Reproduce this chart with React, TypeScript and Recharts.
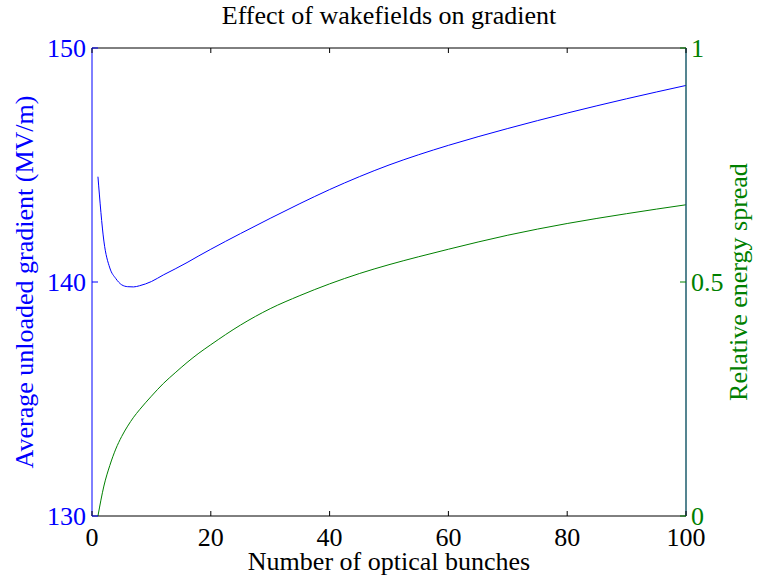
import React from 'react';
import { LineChart, Line, XAxis, YAxis } from 'recharts';

const FONT = '"Liberation Serif", "Times New Roman", serif';
const BLUE = '#0000ff';
const GREEN = '#008000';

// number of optical bunches
const bunches = [1, 2, 3, 4, 5, 6, 7, 8, 10, 12, 14, 16, 18, 20, 25, 30, 35, 40, 45, 50, 55, 60, 70, 80, 90, 100];
// average unloaded gradient (MV/m)
const gradient = [
  144.5, 141.75, 140.6, 140.15, 139.88, 139.8, 139.79, 139.84, 140.02, 140.3, 140.56, 140.83, 141.12,
  141.4, 142.07, 142.72, 143.35, 143.95, 144.5, 145.0, 145.44, 145.84, 146.56, 147.22, 147.83, 148.4,
];
// relative energy spread
const spread = [
  0, 0.064, 0.108, 0.143, 0.17, 0.192, 0.211, 0.227, 0.256, 0.283, 0.306, 0.328, 0.348,
  0.366, 0.408, 0.443, 0.471, 0.496, 0.518, 0.537, 0.554, 0.57, 0.6, 0.625, 0.646, 0.665,
];

const xTicks = [0, 20, 40, 60, 80, 100];
const gradientTicks = [130, 140, 150];
const spreadTicks = [0, 0.5, 1];

const data = bunches.map((n, i) => ({ n, gradient: gradient[i], spread: spread[i] }));

const BottomTick = (props: any) => {
  const { x, y, payload } = props;
  return (
    <g>
      <line x1={x} y1={y} x2={x} y2={y - 5} stroke="#000" />
      <text x={x} y={y + 30} textAnchor="middle" fontFamily={FONT} fontSize={26} fill="#000">
        {payload.value}
      </text>
    </g>
  );
};

const TopTick = (props: any) => {
  const { x, y } = props;
  return <line x1={x} y1={y} x2={x} y2={y + 5} stroke="#000" />;
};

const LeftTick = (props: any) => {
  const { x, y, payload } = props;
  return (
    <g>
      <line x1={x} y1={y} x2={x + 6} y2={y} stroke={BLUE} />
      <text x={x - 6} y={y + 9} textAnchor="end" fontFamily={FONT} fontSize={26} fill={BLUE}>
        {payload.value}
      </text>
    </g>
  );
};

const RightTick = (props: any) => {
  const { x, y, payload } = props;
  return (
    <g>
      <line x1={x} y1={y} x2={x - 6} y2={y} stroke={GREEN} />
      <text x={x + 5} y={y + 9} textAnchor="start" fontFamily={FONT} fontSize={26} fill={GREEN}>
        {payload.value}
      </text>
    </g>
  );
};

export default function App() {
  return (
    <div style={{ position: 'absolute', left: 0, top: 0, width: 760, height: 579, background: '#fff' }}>
      <LineChart width={760} height={579} data={data} margin={{ top: 47, right: 0, bottom: 0, left: 0 }}>
        <XAxis
          dataKey="n"
          type="number"
          domain={[0, 100]}
          ticks={xTicks}
          interval={0}
          height={63}
          tickSize={0}
          tickMargin={0}
          tickLine={false}
          stroke="#000"
          tick={<BottomTick />}
          label={({ viewBox }: any) => (
            <text
              x={viewBox.x + viewBox.width / 2}
              y={viewBox.y + 54}
              textAnchor="middle"
              fontFamily={FONT}
              fontSize={26}
              fill="#000"
            >
              Number of optical bunches
            </text>
          )}
        />
        <XAxis
          xAxisId="top"
          dataKey="n"
          type="number"
          orientation="top"
          domain={[0, 100]}
          ticks={xTicks}
          interval={0}
          height={1}
          tickSize={0}
          tickMargin={0}
          tickLine={false}
          stroke="#000"
          tick={<TopTick />}
          label={({ viewBox }: any) => (
            <text
              x={viewBox.x + viewBox.width / 2}
              y={viewBox.y - 23}
              textAnchor="middle"
              fontFamily={FONT}
              fontSize={26}
              fill="#000"
            >
              Effect of wakefields on gradient
            </text>
          )}
        />
        <YAxis
          yAxisId="left"
          orientation="left"
          domain={[130, 150]}
          ticks={gradientTicks}
          interval={0}
          width={92}
          tickSize={0}
          tickMargin={0}
          tickLine={false}
          stroke={BLUE}
          tick={<LeftTick />}
          label={({ viewBox }: any) => {
            const cx = viewBox.x + 33;
            const cy = viewBox.y + viewBox.height / 2;
            return (
              <text
                x={cx}
                y={cy}
                transform={`rotate(-90 ${cx} ${cy})`}
                textAnchor="middle"
                fontFamily={FONT}
                fontSize={26}
                fill={BLUE}
              >
                Average unloaded gradient (MV/m)
              </text>
            );
          }}
        />
        <YAxis
          yAxisId="right"
          orientation="right"
          domain={[0, 1]}
          ticks={spreadTicks}
          interval={0}
          width={74}
          tickSize={0}
          tickMargin={0}
          tickLine={false}
          axisLine={{ stroke: '#1c5c6c', strokeWidth: 1.5 }}
          tick={<RightTick />}
          label={({ viewBox }: any) => {
            const cx = viewBox.x + 61;
            const cy = viewBox.y + viewBox.height / 2;
            return (
              <text
                x={cx}
                y={cy}
                transform={`rotate(-90 ${cx} ${cy})`}
                textAnchor="middle"
                fontFamily={FONT}
                fontSize={26}
                fill={GREEN}
              >
                Relative energy spread
              </text>
            );
          }}
        />
        <Line
          yAxisId="left"
          type="monotone"
          dataKey="gradient"
          stroke={BLUE}
          strokeWidth={1}
          dot={false}
          isAnimationActive={false}
        />
        <Line
          yAxisId="right"
          type="monotone"
          dataKey="spread"
          stroke={GREEN}
          strokeWidth={1}
          dot={false}
          isAnimationActive={false}
        />
      </LineChart>
    </div>
  );
}
